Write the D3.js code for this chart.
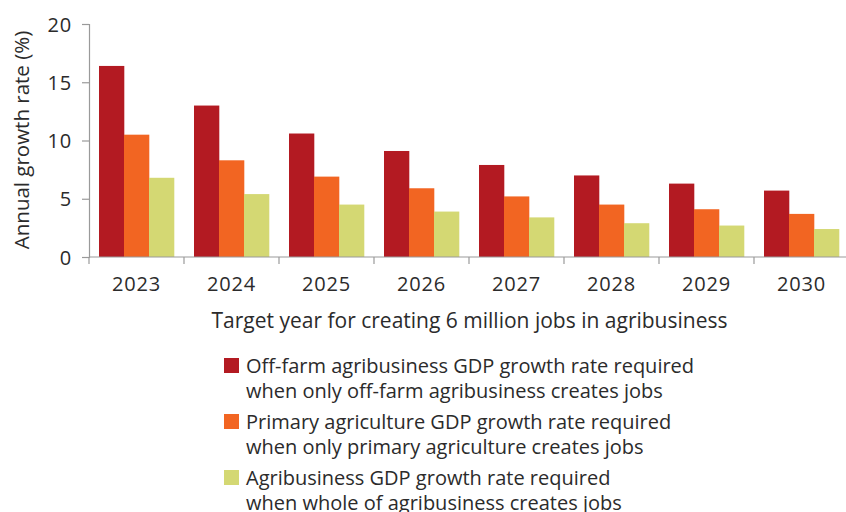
<!DOCTYPE html>
<html>
<head>
<meta charset="utf-8">
<script src="https://cdn.jsdelivr.net/npm/d3@7"></script>
<style>
  html, body { margin: 0; padding: 0; background: #fff; }
  svg { display: block; }
  text { font-family: "Open Sans", "Noto Sans", sans-serif; fill: #2b2b2b; }
</style>
</head>
<body>
<svg id="chart" width="846" height="512"></svg>
<script>
// Target years on the horizontal axis
const years = ["2023", "2024", "2025", "2026", "2027", "2028", "2029", "2030"];

// Required annual growth rates (%) for each scenario
const offFarm = [16.4, 13.0, 10.6, 9.1, 7.9, 7.0, 6.3, 5.7];
const primary = [10.5, 8.3, 6.9, 5.9, 5.2, 4.5, 4.1, 3.7];
const whole   = [6.8, 5.4, 4.5, 3.9, 3.4, 2.9, 2.7, 2.4];

const yTicks = [0, 5, 10, 15, 20];

const seriesNames = [
  ["Off-farm agribusiness GDP growth rate required", "when only off-farm agribusiness creates jobs"],
  ["Primary agriculture GDP growth rate required", "when only primary agriculture creates jobs"],
  ["Agribusiness GDP growth rate required", "when whole of agribusiness creates jobs"]
];
const seriesColors = ["#b31a22", "#f26522", "#d4d873"];

const series = [offFarm, primary, whole];

const svg = d3.select("#chart");
const plot = { left: 89, right: 849, top: 24, bottom: 257 };

const x = d3.scaleBand().domain(years).range([plot.left, plot.right]).paddingInner(0).paddingOuter(0);
const xInner = d3.scaleBand().domain(d3.range(series.length))
  .range([0, x.bandwidth()]).paddingInner(0).paddingOuter(0.4);
const y = d3.scaleLinear().domain([0, 20]).range([plot.bottom, plot.top]);

// Bars
const groups = svg.append("g").selectAll("g")
  .data(years)
  .join("g")
  .attr("transform", d => `translate(${x(d)},0)`);

groups.selectAll("rect")
  .data((d, i) => series.map((s, k) => ({ k, v: s[i] })))
  .join("rect")
  .attr("x", d => xInner(d.k))
  .attr("width", xInner.bandwidth() + 0.3)
  .attr("y", d => y(d.v))
  .attr("height", d => y(0) - y(d.v))
  .attr("fill", d => seriesColors[d.k]);

const axisColor = "#9a9a9a";

// Y axis
const yAxis = svg.append("g")
  .attr("transform", `translate(${plot.left},0)`)
  .call(d3.axisLeft(y).tickValues(yTicks).tickSize(7).tickPadding(10));
yAxis.select(".domain").attr("stroke", axisColor).attr("stroke-width", 1.2);
yAxis.selectAll(".tick line").attr("stroke", axisColor).attr("stroke-width", 1.2);
yAxis.selectAll(".tick text")
  .style("font-size", "20px").style("letter-spacing", "0.8px")
  .attr("fill", "#2b2b2b").attr("dy", "0.35em");

// X axis: ticks sit on the category boundaries
const boundaries = years.map(d => x(d)).concat([plot.right]);
const xAxisG = svg.append("g");
xAxisG.append("line")
  .attr("x1", plot.left).attr("x2", 846)
  .attr("y1", y(0)).attr("y2", y(0))
  .attr("stroke", axisColor).attr("stroke-width", 1.2);
xAxisG.selectAll("line.tk")
  .data(boundaries)
  .join("line")
  .attr("class", "tk")
  .attr("x1", d => d).attr("x2", d => d)
  .attr("y1", y(0)).attr("y2", y(0) + 7)
  .attr("stroke", axisColor).attr("stroke-width", 1.2);
xAxisG.selectAll("text")
  .data(years)
  .join("text")
  .attr("x", d => x(d) + x.bandwidth() / 2)
  .attr("y", 291)
  .attr("text-anchor", "middle")
  .style("font-size", "20px").style("letter-spacing", "0.8px")
  .text(d => d);

// Axis titles
svg.append("text")
  .attr("transform", `translate(29,${(27 + 253) / 2}) rotate(-90)`)
  .attr("text-anchor", "middle")
  .style("font-size", "20.5px")
  .text("Annual growth rate (%)");

svg.append("text")
  .attr("x", 469.5).attr("y", 328)
  .attr("text-anchor", "middle")
  .style("font-size", "21px")
  .text("Target year for creating 6 million jobs in agribusiness");

// Legend
const legend = svg.append("g").attr("transform", "translate(224,358)");
const items = legend.selectAll("g")
  .data(seriesNames)
  .join("g")
  .attr("transform", (d, i) => `translate(0,${i * 56})`);
items.append("rect")
  .attr("width", 15).attr("height", 15)
  .attr("fill", (d, i) => seriesColors[i]);
items.append("text")
  .attr("x", 22).attr("y", 15)
  .style("font-size", "20px")
  .selectAll("tspan")
  .data(d => d)
  .join("tspan")
  .attr("x", 22)
  .attr("dy", (d, j) => j === 0 ? 0 : 25)
  .text(d => d);
</script>
</body>
</html>
